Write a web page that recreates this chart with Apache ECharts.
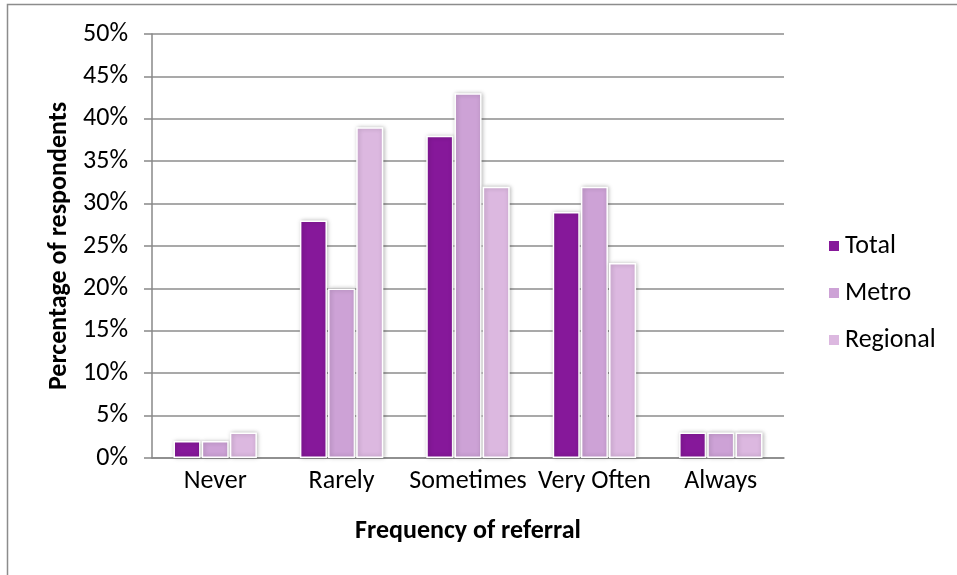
<!DOCTYPE html>
<html>
<head>
<meta charset="utf-8">
<script src="https://cdn.jsdelivr.net/npm/echarts@6/dist/echarts.min.js"></script>
<style>html,body{margin:0;padding:0;background:#fff;}#c{width:957px;height:575px;}</style>
</head>
<body>
<div id="c"></div>
<script>
var categories = ['Never', 'Rarely', 'Sometimes', 'Very Often', 'Always'];
var seriesNames = ['Total', 'Metro', 'Regional'];
var totalValues = [2, 28, 38, 29, 3];
var metroValues = [2, 20, 43, 32, 3];
var regionalValues = [3, 39, 32, 23, 3];
var colors = ['#86189A', '#CDA2D6', '#DCB8E0'];

var font = "Carlito, Calibri, Lato, 'Open Sans', sans-serif";
var chart = echarts.init(document.getElementById('c'), null, {renderer: 'canvas'});
function mk(name, data, color) {
  return {
    name: name, type: 'bar', data: data, barGap: '4%', barCategoryGap: '34%',
    itemStyle: {color: color, borderColor: '#fff', borderWidth: 1.5,
      shadowBlur: 4, shadowColor: 'rgba(0,0,0,0.25)', shadowOffsetX: 1, shadowOffsetY: 0},
    emphasis: {disabled: true}
  };
}
chart.setOption({
  animation: false,
  color: colors,
  textStyle: {fontFamily: font},
  graphic: [{type: 'rect', shape: {x: 7.5, y: 4.5, width: 1000, height: 700},
    style: {fill: 'none', stroke: '#8c8c8c', lineWidth: 1.5}, silent: true}],
  grid: {left: 152, right: 173, top: 34, bottom: 117, containLabel: false},
  legend: {
    orient: 'vertical', left: 822, top: 228, itemGap: 21, itemWidth: 12, itemHeight: 12,
    icon: 'rect', data: seriesNames,
    textStyle: {fontSize: 26, color: '#000', fontFamily: font}
  },
  xAxis: {
    type: 'category', data: categories,
    name: 'Frequency of referral', nameLocation: 'middle', nameGap: 60,
    nameTextStyle: {fontSize: 26, fontWeight: 'bold', color: '#000', fontFamily: font},
    axisLine: {lineStyle: {color: '#888', width: 1.5}},
    axisTick: {show: false},
    axisLabel: {fontSize: 26, color: '#000', margin: 10, interval: 0, fontFamily: font}
  },
  yAxis: {
    type: 'value', min: 0, max: 50, interval: 5,
    name: 'Percentage of respondents', nameLocation: 'middle', nameGap: 77,
    nameTextStyle: {fontSize: 26, fontWeight: 'bold', color: '#000', fontFamily: font},
    axisLine: {show: true, lineStyle: {color: '#888', width: 1.5}},
    axisTick: {show: true, length: 8, lineStyle: {color: '#888', width: 1.5}},
    splitLine: {lineStyle: {color: '#8c8c8c', width: 1.5}},
    axisLabel: {fontSize: 26, color: '#000', margin: 24, formatter: '{value}%', fontFamily: font}
  },
  series: [mk(seriesNames[0], totalValues, colors[0]), mk(seriesNames[1], metroValues, colors[1]), mk(seriesNames[2], regionalValues, colors[2])]
});
</script>
</body>
</html>
